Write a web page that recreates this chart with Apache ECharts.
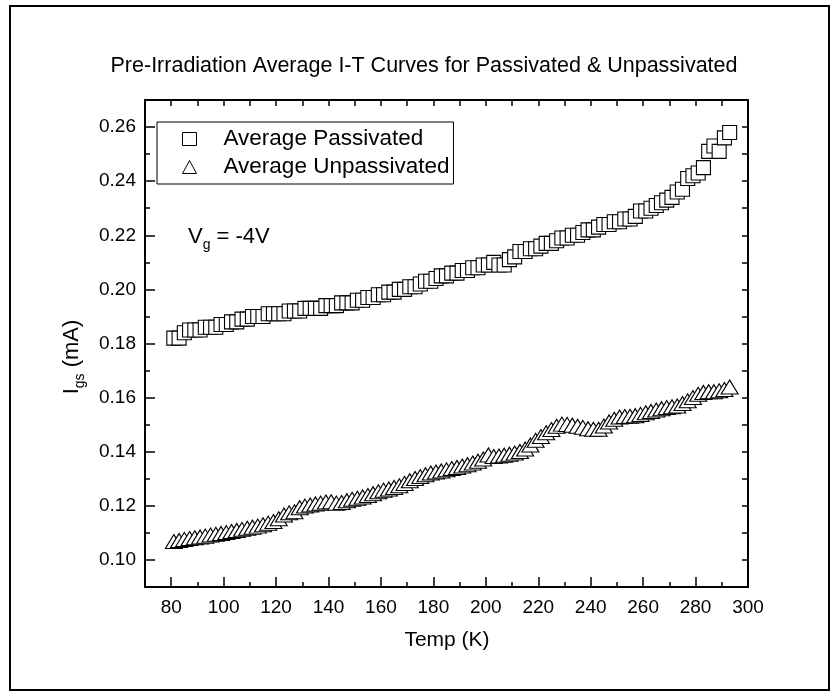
<!DOCTYPE html>
<html><head><meta charset="utf-8">
<script src="https://cdn.jsdelivr.net/npm/echarts@6/dist/echarts.min.js"></script>
<style>html,body{margin:0;padding:0;background:#fff}#c{width:838px;height:698px}</style>
</head><body><div id="c"></div>
<script>
const temps = [
  81,83,85,87,89,91,93,95,97,99,
  101,103,105,107,109,111,113,115,117,119,
  121,123,125,127,129,131,133,135,137,139,
  141,143,145,147,149,151,153,155,157,159,
  161,163,165,167,169,171,173,175,177,179,
  181,183,185,187,189,191,193,195,197,199,
  201,203,205,207,209,211,213,215,217,219,
  221,223,225,227,229,231,233,235,237,239,
  241,243,245,247,249,251,253,255,257,259,
  261,263,265,267,269,271,273,275,277,279,
  281,283,285,287,289,291,293
];
const passivated = [
  0.182,0.182,0.184,0.185,0.185,0.185,0.186,0.186,0.186,0.187,
  0.187,0.188,0.188,0.189,0.189,0.190,0.190,0.190,0.191,0.191,
  0.191,0.191,0.192,0.192,0.192,0.193,0.193,0.193,0.193,0.194,
  0.194,0.194,0.195,0.195,0.195,0.196,0.196,0.197,0.197,0.198,
  0.198,0.199,0.199,0.200,0.200,0.201,0.201,0.202,0.203,0.203,
  0.204,0.205,0.205,0.206,0.206,0.207,0.207,0.208,0.208,0.209,
  0.209,0.210,0.209,0.209,0.211,0.212,0.214,0.214,0.215,0.215,
  0.216,0.217,0.217,0.218,0.219,0.219,0.220,0.220,0.221,0.222,
  0.222,0.223,0.224,0.224,0.225,0.225,0.226,0.226,0.227,0.229,
  0.229,0.230,0.231,0.232,0.233,0.234,0.236,0.237,0.241,0.242,
  0.243,0.245,0.251,0.253,0.251,0.256,0.258
];
const unpassivated = [
  0.1068,0.1072,0.1076,0.1079,0.1082,0.1085,0.1088,0.1092,0.1095,0.1098,
  0.1101,0.1105,0.1109,0.1113,0.1117,0.1121,0.1125,0.1130,0.1136,0.1142,
  0.1152,0.1166,0.1174,0.1178,0.1193,0.1199,0.1203,0.1207,0.1210,0.1214,
  0.1215,0.1210,0.1212,0.1219,0.1224,0.1228,0.1233,0.1238,0.1245,0.1252,
  0.1258,0.1262,0.1268,0.1274,0.1283,0.1293,0.1301,0.1308,0.1315,0.1321,
  0.1325,0.1329,0.1333,0.1338,0.1342,0.1347,0.1352,0.1358,0.1365,0.1373,
  0.1388,0.1382,0.1384,0.1387,0.1391,0.1395,0.1401,0.1410,0.1425,0.1442,
  0.1456,0.1470,0.1482,0.1494,0.1502,0.1501,0.1498,0.1494,0.1490,0.1485,
  0.1483,0.1483,0.1495,0.1510,0.1520,0.1528,0.1530,0.1531,0.1533,0.1538,
  0.1544,0.1549,0.1554,0.1559,0.1563,0.1566,0.1569,0.1578,0.1588,0.1600,
  0.1612,0.1619,0.1622,0.1622,0.1625,0.1630,0.1639
];
const xMajorTicks = [80,100,120,140,160,180,200,220,240,260,280,300];
const yMajorTicks = [0.10,0.12,0.14,0.16,0.18,0.20,0.22,0.24,0.26];
const seriesNames = ['Average Passivated','Average Unpassivated'];
const titleText = 'Pre-Irradiation Average I-T Curves for Passivated & Unpassivated';
const xTitle = 'Temp (K)';

const FONT = "'Liberation Sans', Arial, sans-serif";
const BLACK = '#000';
const lineStyle = {color: BLACK, width: 2};
const tickStyle = {color: BLACK, width: 1.5};

function xAx(extra) {
  return Object.assign({type: 'value', min: 70, max: 300, splitLine: {show: false},
    axisLine: {show: false}, axisLabel: {show: false}, axisTick: {show: false}}, extra);
}
function yAx(extra) {
  return Object.assign({type: 'value', min: 0.09, max: 0.27, splitLine: {show: false},
    axisLine: {show: false}, axisLabel: {show: false}, axisTick: {show: false}}, extra);
}

const chart = echarts.init(document.getElementById('c'), null, {renderer: 'canvas'});
chart.setOption({
  animation: false,
  backgroundColor: '#fff',
  textStyle: {fontFamily: FONT, color: BLACK},
  grid: {left: 145, right: 90, top: 100, bottom: 111},
  xAxis: [
    xAx({position: 'bottom', axisLine: {show: true, lineStyle},
      axisTick: {show: true, inside: true, length: 10, customValues: xMajorTicks, lineStyle: tickStyle},
      axisLabel: {show: true, customValues: xMajorTicks, color: BLACK, fontSize: 19, fontFamily: FONT, margin: 11}}),
    xAx({position: 'bottom', interval: 10,
      axisTick: {show: true, inside: true, length: 5, lineStyle: tickStyle}}),
    xAx({position: 'top', interval: 10, axisLine: {show: true, lineStyle},
      axisTick: {show: true, inside: true, length: 6, lineStyle: tickStyle}})
  ],
  yAxis: [
    yAx({position: 'left', axisLine: {show: true, lineStyle},
      axisTick: {show: true, inside: true, length: 10, customValues: yMajorTicks, lineStyle: tickStyle},
      axisLabel: {show: true, customValues: yMajorTicks, color: BLACK, fontSize: 19, fontFamily: FONT, margin: 9,
        formatter: v => v.toFixed(2)}}),
    yAx({position: 'left', interval: 0.01,
      axisTick: {show: true, inside: true, length: 5, lineStyle: tickStyle}}),
    yAx({position: 'right', interval: 0.01, axisLine: {show: true, lineStyle},
      axisTick: {show: true, inside: true, length: 6, lineStyle: tickStyle}})
  ],
  legend: {
    orient: 'vertical', left: 157, top: 122,
    padding: [4, 4, 4, 25], itemGap: 2, itemWidth: 14, itemHeight: 13,
    borderColor: BLACK, borderWidth: 1, backgroundColor: '#fff',
    itemStyle: {color: '#fff', borderColor: BLACK, borderWidth: 1},
    textStyle: {fontSize: 22.5, lineHeight: 26, color: BLACK, fontFamily: FONT, padding: [0, 0, 0, 22]},
    data: [{name: seriesNames[0], icon: 'rect'}, {name: seriesNames[1], icon: 'triangle'}]
  },
  series: [
    {name: seriesNames[0], type: 'scatter', xAxisIndex: 0, yAxisIndex: 0,
      symbol: 'rect', symbolSize: 14,
      itemStyle: {color: '#fff', borderColor: BLACK, borderWidth: 1.1, opacity: 1},
      data: temps.map((t, i) => [t, passivated[i]])},
    {name: seriesNames[1], type: 'scatter', xAxisIndex: 0, yAxisIndex: 0,
      symbol: 'triangle', symbolSize: [17, 14],
      itemStyle: {color: '#fff', borderColor: BLACK, borderWidth: 1.1, opacity: 1},
      data: temps.map((t, i) => [t, unpassivated[i]])}
  ],
  graphic: [
    {type: 'rect', shape: {x: 10, y: 6, width: 819, height: 684}, style: {fill: 'none', stroke: BLACK, lineWidth: 2}, z: -1},
    {type: 'text', x: 424, y: 66, style: {text: titleText, font: '21.5px ' + FONT, fill: BLACK, align: 'center', verticalAlign: 'middle'}},
    {type: 'text', x: 188, y: 237, style: {
      text: '{a|V}{b|g}{a| = -4V}', align: 'left', verticalAlign: 'middle', fill: BLACK,
      rich: {a: {fontSize: 22, fontFamily: FONT, lineHeight: 30, verticalAlign: 'middle'},
             b: {fontSize: 14, fontFamily: FONT, lineHeight: 30, verticalAlign: 'bottom'}}}},
    {type: 'text', x: 72, y: 357, rotation: Math.PI / 2, style: {
      text: '{a|I}{b|gs}{a| (mA)}', align: 'center', verticalAlign: 'middle', fill: BLACK,
      rich: {a: {fontSize: 22, fontFamily: FONT, lineHeight: 30, verticalAlign: 'middle'},
             b: {fontSize: 14, fontFamily: FONT, lineHeight: 30, verticalAlign: 'bottom'}}}},
    {type: 'text', x: 447, y: 640, style: {text: xTitle, font: '21px ' + FONT, fill: BLACK, align: 'center', verticalAlign: 'middle'}}
  ]
});
</script></body></html>
